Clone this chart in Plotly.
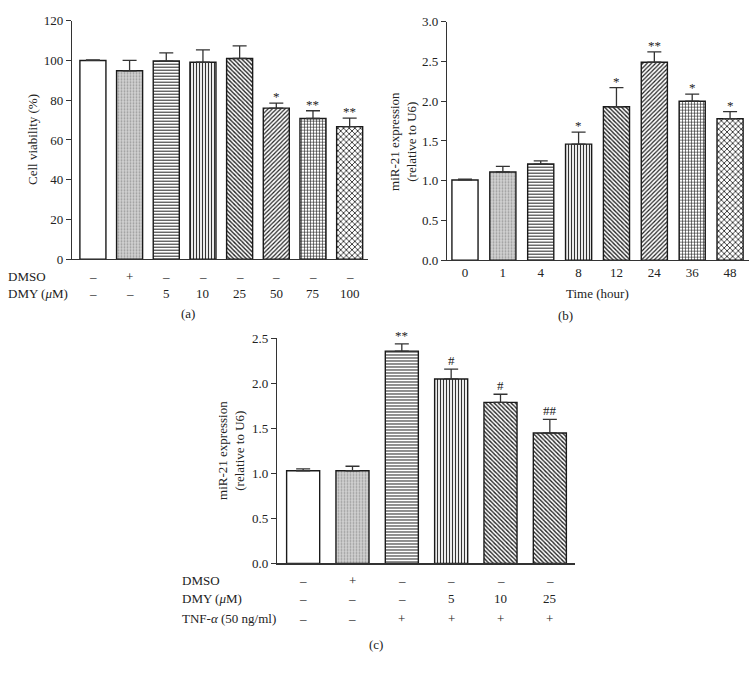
import plotly.graph_objects as go

W, H = 756, 677
FONT = "Liberation Serif"

# ---------------- data ----------------
# panel (a)
a_dmso = ["–", "+", "–", "–", "–", "–", "–", "–"]
a_dmy = ["–", "–", "5", "10", "25", "50", "75", "100"]
a_vals = [100, 94.8, 99.7, 99.1, 101.0, 76.0, 70.8, 66.7]
a_err = [0.3, 5.2, 4.1, 6.2, 6.3, 2.5, 3.9, 4.3]
a_sig = ["", "", "", "", "", "*", "**", "**"]

# panel (b)
b_time = ["0", "1", "4", "8", "12", "24", "36", "48"]
b_vals = [1.01, 1.11, 1.21, 1.46, 1.93, 2.49, 2.00, 1.78]
b_err = [0.01, 0.07, 0.04, 0.15, 0.24, 0.13, 0.09, 0.09]
b_sig = ["", "", "", "*", "*", "**", "*", "*"]

# panel (c)
c_dmso = ["–", "+", "–", "–", "–", "–"]
c_dmy = ["–", "–", "–", "5", "10", "25"]
c_tnf = ["–", "–", "+", "+", "+", "+"]
c_vals = [1.03, 1.03, 2.36, 2.05, 1.79, 1.45]
c_err = [0.02, 0.05, 0.08, 0.11, 0.09, 0.15]
c_sig = ["", "", "**", "#", "#", "##"]

# bar fill styles (per bar position)
shapes8 = ["", ".", "-", "|", "\\", "/", "+", "x"]
sizes8 = [6, 3, 3, 3, 3, 3, 3, 4]
solid8 = [0.3, 0.3, 0.34, 0.4, 0.45, 0.4, 0.36, 0.38]
bg8 = ["white", "#d2d2d2", "white", "white", "white", "white", "white", "white"]
fg8 = ["#222", "#9a9a9a", "#222", "#333", "#222", "#222", "#222", "#222"]

shapes6 = ["", ".", "-", "|", "\\", "\\"]
sizes6 = [6, 3, 3, 3, 3, 3]
solid6 = [0.3, 0.3, 0.34, 0.4, 0.45, 0.45]
bg6 = ["white", "#d2d2d2", "white", "white", "white", "white"]
fg6 = ["#222", "#9a9a9a", "#222", "#333", "#222", "#222"]


def px_x(p):
    return p / W


def px_y(p):
    return 1 - p / H


fig = go.Figure()


def add_bars(vals, errs, shapes, sizes, solid, bg, fg, xa, ya, width):
    fig.add_trace(go.Bar(
        x=list(range(len(vals))), y=vals,
        width=width,
        xaxis=xa, yaxis=ya,
        marker=dict(
            color="white",
            line=dict(color="#1a1a1a", width=1.4),
            pattern=dict(shape=shapes, size=sizes, solidity=solid,
                         bgcolor=bg, fgcolor=fg, fillmode="replace"),
        ),
        error_y=dict(type="data", symmetric=False, array=errs,
                     arrayminus=[0] * len(errs), color="#333",
                     thickness=1.3, width=7),
        showlegend=False, hoverinfo="skip",
    ))


add_bars(a_vals, a_err, shapes8, sizes8, solid8, bg8, fg8, "x", "y", 0.71)
add_bars(b_vals, b_err, shapes8, sizes8, solid8, bg8, fg8, "x2", "y2", 0.69)
add_bars(c_vals, c_err, shapes6, sizes6, solid6, bg6, fg6, "x3", "y3", 0.67)

axis_common = dict(showline=True, linecolor="#333", linewidth=1.2,
                   showgrid=False, zeroline=False,
                   tickfont=dict(family=FONT, size=13, color="#222"))

fig.update_layout(
    width=W, height=H,
    margin=dict(l=0, r=0, t=0, b=0),
    paper_bgcolor="white", plot_bgcolor="white",
    font=dict(family=FONT, size=13, color="#222"),
    bargap=0,
    hovermode=False,
    xaxis=dict(domain=[px_x(72), px_x(368)], range=[-0.57, 7.5],
               showticklabels=False, ticks="", anchor="y", **axis_common),
    yaxis=dict(domain=[px_y(258), px_y(14)], range=[0, 120], dtick=20,
               ticks="outside", ticklen=5, tickcolor="#333", anchor="x",
               **axis_common),
    xaxis2=dict(domain=[px_x(447), px_x(749)], range=[-0.475, 7.5],
                tickmode="array", tickvals=list(range(8)), ticktext=b_time,
                ticks="", anchor="y2", **axis_common),
    yaxis2=dict(domain=[px_y(259), px_y(15)], range=[0, 3.0], dtick=0.5,
                tickformat=".1f",
                ticks="outside", ticklen=5, tickcolor="#333", anchor="x2",
                **axis_common),
    xaxis3=dict(domain=[px_x(277), px_x(575)], range=[-0.53, 5.51],
                showticklabels=False, ticks="", anchor="y3", **axis_common),
    yaxis3=dict(domain=[px_y(569), px_y(339)], range=[0, 2.5], dtick=0.5,
                tickformat=".1f",
                ticks="outside", ticklen=5, tickcolor="#333", anchor="x3",
                **axis_common),
)

ann = []


def txt(x, y, text, xref="paper", yref="paper", xanchor="center",
        yanchor="middle", angle=0, size=13, yshift=0):
    ann.append(dict(x=x, y=y, xref=xref, yref=yref, text=text,
                    showarrow=False, xanchor=xanchor, yanchor=yanchor,
                    textangle=angle, yshift=yshift,
                    font=dict(family=FONT, size=size, color="#222")))


# significance marks
for i, s in enumerate(a_sig):
    if s:
        txt(i, a_vals[i] + a_err[i], s, "x", "y", yanchor="bottom", yshift=-3)
for i, s in enumerate(b_sig):
    if s:
        txt(i, b_vals[i] + b_err[i], s, "x2", "y2", yanchor="bottom", yshift=-3)
for i, s in enumerate(c_sig):
    if s:
        txt(i, c_vals[i] + c_err[i], s, "x3", "y3", yanchor="bottom", yshift=-1)

# panel (a) treatment rows
txt(px_x(6), px_y(276), "DMSO", xanchor="left")
txt(px_x(6), px_y(293), "DMY (<i>μ</i>M)", xanchor="left")
for i in range(len(a_dmso)):
    txt(i, px_y(276), a_dmso[i], "x", "paper")
    txt(i, px_y(293), a_dmy[i], "x", "paper")

# panel (c) treatment rows
txt(px_x(180), px_y(586), "DMSO", xanchor="left")
txt(px_x(180), px_y(605), "DMY (<i>μ</i>M)", xanchor="left")
txt(px_x(180), px_y(625), "TNF-<i>α</i> (50 ng/ml)", xanchor="left")
for i in range(len(c_dmso)):
    txt(i, px_y(586), c_dmso[i], "x3", "paper")
    txt(i, px_y(605), c_dmy[i], "x3", "paper")
    txt(i, px_y(625), c_tnf[i], "x3", "paper")

# axis titles
txt(px_x(33), px_y(136), "Cell viability (%)", angle=-90)
txt(px_x(403), px_y(137), "miR-21 expression<br>(relative to U6)", angle=-90)
txt(px_x(231), px_y(454), "miR-21 expression<br>(relative to U6)", angle=-90)
txt(px_x(597), px_y(293), "Time (hour)")

# panel labels
txt(px_x(188), px_y(313), "(a)")
txt(px_x(565), px_y(316), "(b)")
txt(px_x(376), px_y(652), "(c)")

fig.update_layout(annotations=ann)
fig.write_html(
    "out.html",
    config={"displayModeBar": False, "staticPlot": True},
    post_script="document.body.style.margin='0';"
                "document.body.style.overflow='hidden';",
)
